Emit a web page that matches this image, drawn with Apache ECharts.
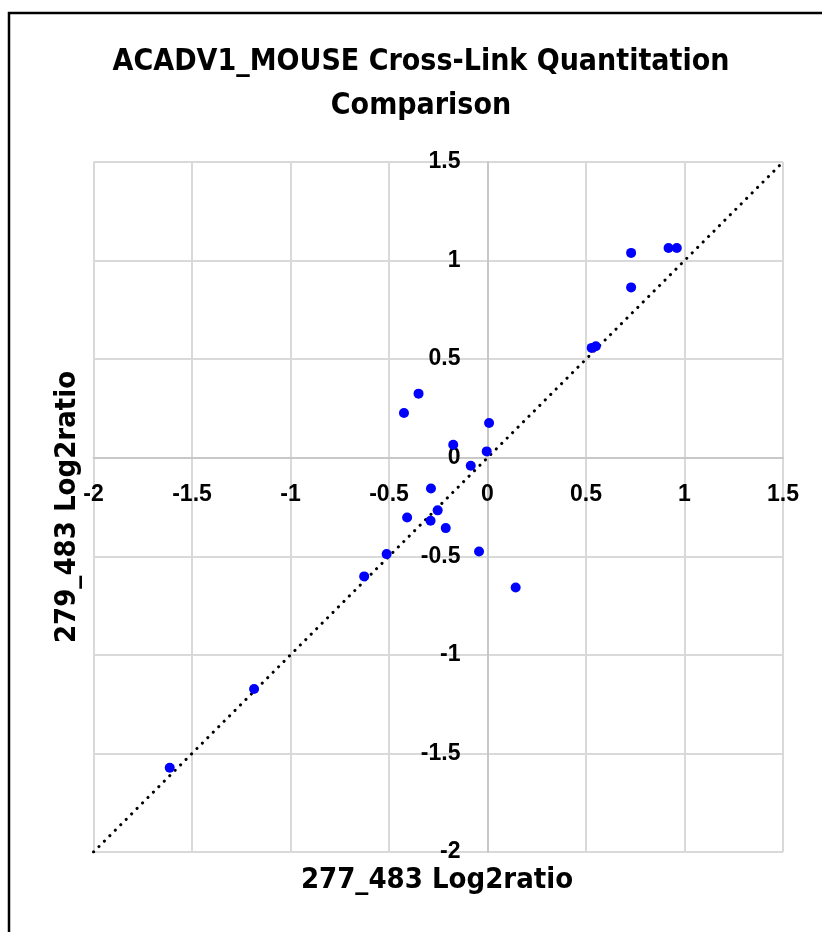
<!DOCTYPE html>
<html>
<head>
<meta charset="utf-8">
<script src="https://cdn.jsdelivr.net/npm/echarts@6/dist/echarts.min.js"></script>
<style>
html, body { margin: 0; padding: 0; background: #fff; }
#main { width: 822px; height: 932px; }
</style>
</head>
<body>
<div id="main"></div>
<script>
// 277_483 (x) vs 279_483 (y) log2 ratios
var xVals = [-1.613, -1.185, -0.626, -0.512, -0.043, 0.143, -0.212, -0.289, -0.253, -0.408, -0.287, -0.085,
             -0.004, -0.174, 0.008, -0.424, -0.35, 0.729, 0.729, 0.919, 0.961, 0.529, 0.55];
var yVals = [-1.573, -1.173, -0.602, -0.489, -0.476, -0.658, -0.357, -0.320, -0.267, -0.303, -0.156, -0.041,
             0.032, 0.066, 0.176, 0.227, 0.325, 1.039, 0.864, 1.064, 1.064, 0.557, 0.565];
var diagLine = [[-2, -2], [1.5, 1.5]];
var axisMin = -2, axisMax = 1.5, axisStep = 0.5;

var points = xVals.map(function (x, i) { return [x, yVals[i]]; });

var W = 822, H = 932;
var gridBox = { left: 93.5, right: 39, top: 162, bottom: 80 };
var plotW = W - gridBox.left - gridBox.right;
var plotH = H - gridBox.top - gridBox.bottom;
// put axes through zero (Excel style crossing)
var zeroFrac = (0 - axisMin) / (axisMax - axisMin);

var narrow = "'Liberation Sans Narrow', 'DejaVu Sans Condensed', sans-serif";
var labelFont = "'Liberation Sans', Arial, sans-serif";
var myChart = echarts.init(document.getElementById("main"));

var option = {
    backgroundColor: "#fff",
    animation: false,
    title: {
        text: "ACADV1_MOUSE Cross-Link Quantitation\nComparison",
        left: 416,
        top: 35,
        textAlign: "center",
        textStyle: { fontFamily: narrow, fontWeight: "bold", fontSize: 30, lineHeight: 44, color: "#000" }
    },
    grid: gridBox,
    xAxis: {
        type: "value",
        min: axisMin, max: axisMax, interval: axisStep,
        offset: -zeroFrac * plotH,
        axisLine: { onZero: false, lineStyle: { color: "#c8c8c8", width: 2 } },
        axisTick: { show: false },
        axisLabel: { margin: 25, color: "#000", fontWeight: "bold", fontSize: 23, fontFamily: labelFont },
        splitLine: { lineStyle: { color: "#d9d9d9", width: 2 } }
    },
    yAxis: {
        type: "value",
        min: axisMin, max: axisMax, interval: axisStep,
        offset: -zeroFrac * plotW,
        axisLine: { onZero: false, lineStyle: { color: "#c8c8c8", width: 2 } },
        axisTick: { show: false },
        axisLabel: { margin: 27, color: "#000", fontWeight: "bold", fontSize: 23, fontFamily: labelFont },
        splitLine: { lineStyle: { color: "#d9d9d9", width: 2 } }
    },
    graphic: [
        {
            type: "rect",
            shape: { x: 9, y: 13, width: 830, height: 940 },
            style: { fill: "none", stroke: "#000", lineWidth: 2.5 },
            silent: true
        },
        {
            type: "text",
            x: 437, y: 880,
            style: {
                text: "277_483 Log2ratio",
                fontFamily: narrow, fontWeight: "bold", fontSize: 29,
                fill: "#000", align: "center", verticalAlign: "middle"
            }
        },
        {
            type: "text",
            x: 67, y: 507,
            rotation: Math.PI / 2,
            style: {
                text: "279_483 Log2ratio",
                fontFamily: narrow, fontWeight: "bold", fontSize: 29,
                fill: "#000", align: "center", verticalAlign: "middle"
            }
        }
    ],
    series: [
        {
            type: "line",
            data: diagLine,
            symbol: "none",
            silent: true,
            lineStyle: { color: "#000", width: 3, type: [0.1, 7.6], cap: "round" },
            z: 2
        },
        {
            type: "scatter",
            data: points,
            symbolSize: 10,
            itemStyle: { color: "#0000ff", opacity: 1 },
            z: 3
        }
    ]
};

myChart.setOption(option);
window.addEventListener("resize", function () {
    myChart.resize();
});
</script>
</body>
</html>
